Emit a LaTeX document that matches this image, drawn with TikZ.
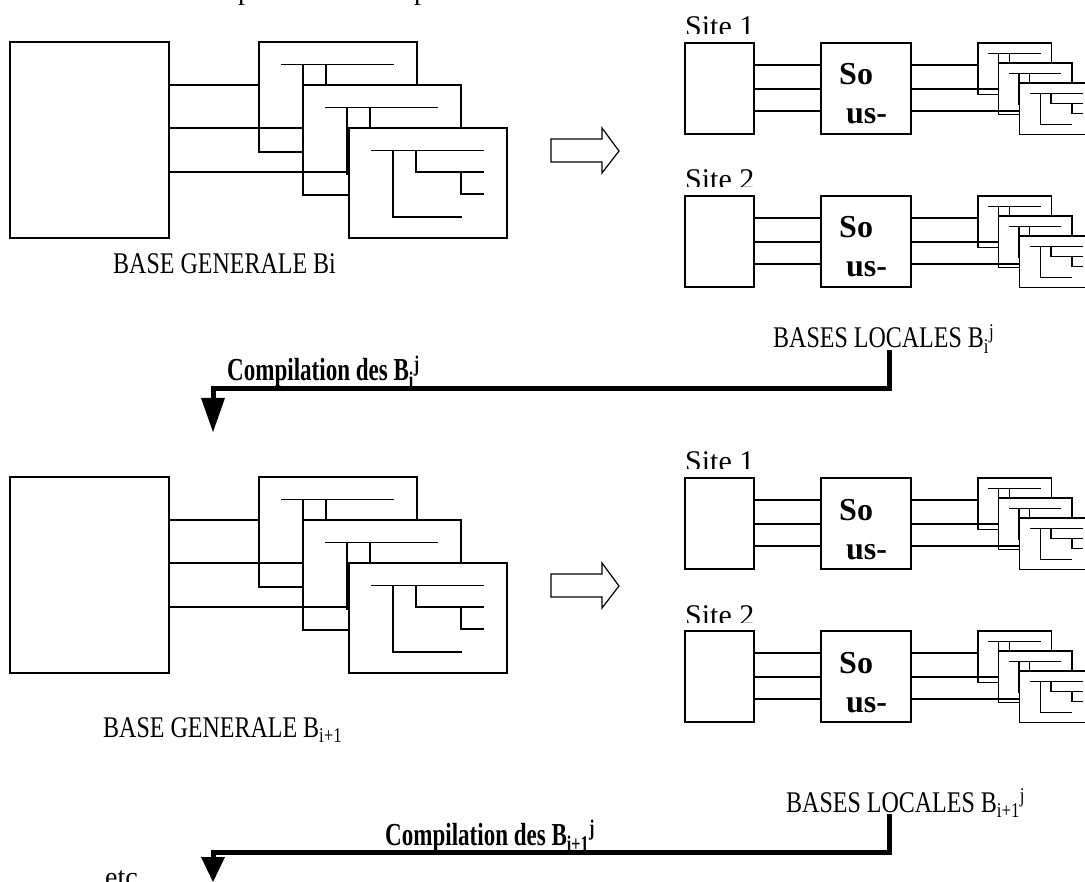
\documentclass[tikz,border=0pt]{standalone}
\usepackage{fontspec}
\setmainfont{Liberation Serif}
\newfontfamily\condreg[FakeStretch=0.8]{Liberation Serif}
\newfontfamily\condbold[FakeStretch=0.72]{Liberation Serif Bold}
\tikzset{
  box/.style={draw, line width=1.2pt, fill=white, inner sep=0pt},
  wire/.style={line width=1.2pt},
  flow/.style={line width=5pt},
  lbl/.style={font=\fontsize{28}{34}\selectfont, inner sep=0pt, anchor=base west},
  sitelbl/.style={font=\fontsize{30}{36}\selectfont, inner sep=0pt, anchor=base west},
  clbl/.style={font=\condreg\fontsize{30}{36}\selectfont, inner sep=0pt, anchor=base west},
  cblbl/.style={font=\condbold\fontsize{32}{38}\selectfont, inner sep=0pt, anchor=base west},
  sous/.style={font=\bfseries\fontsize{32}{38}\selectfont, inner sep=0pt, anchor=base west},
  hollow/.style={draw, line width=1.2pt, fill=white, line join=miter},
  pics/stack/.style={code={
    \foreach \i/\dx/\dy in {1/0/0,2/44/43,3/90/86}{
      \coordinate (-r\i) at (\dx,\dy);
      \filldraw[wire, fill=white] (\dx,\dy) rectangle ++(158,110);
      \draw[wire] ({\dx+22},{\dy+22.5}) -- ++(113,0)
                  ({\dx+44},{\dy+22.5}) -- ({\dx+44},{\dy+89}) -- ({\dx+113},{\dy+89})
                  ({\dx+67},{\dy+22.5}) -- ({\dx+67},{\dy+44}) -- ({\dx+135},{\dy+44})
                  ({\dx+112},{\dy+44}) -- ({\dx+112},{\dy+66}) -- ({\dx+135},{\dy+66});
    }
  }}
}
\begin{document}
\begin{tikzpicture}[x=1pt,y=-1pt]
\path[use as bounding box] (0,0) rectangle (1085,882);
\clip (0,0) rectangle (1085,882);

% clipped text fragments at the top
\node[lbl] (p1) at (238,0) {p};
\node[lbl] (p2) at (414,0) {p};

% ===== level i =====
\node[box, minimum width=159pt, minimum height=196pt] (gen1) at (89.5,140) {};
\pic (st1) at (259,42) {stack};
\foreach \yy/\k in {85/1,128/2,172/3}
  \draw[wire] (gen1.east |- 0,\yy) -- (st1-r\k |- 0,\yy);
\node[clbl] (bg1) at (113,274) {BASE GENERALE Bi};

\draw[hollow] (551,139) -- (602,139) -- (602,128) -- (619,151) -- (602,173) -- (602,162) -- (551,162) -- cycle;

\foreach \s/\oy in {1/0,2/153}{
  \begin{scope}
    \clip (600,0) rectangle (800,34+\oy);
    \node[sitelbl] (site\s) at (685,37+\oy) {Site \s};
  \end{scope}
  \node[box, minimum width=69pt, minimum height=91pt] (la\s) at (719.5,88.5+\oy) {};
  \node[box, minimum width=90pt, minimum height=91pt] (ma\s) at (866,88.5+\oy) {};
  \node[sous] (so\s) at (839,85+\oy) {So};
  \node[sous] (us\s) at (846,124+\oy) {us-};
  \pic[scale=0.465] (ss\s) at (978,43+\oy) {stack};
  \foreach \yy/\k in {65/1,89/2,111/3}{
    \draw[wire] (la\s.east |- 0,\yy+\oy) -- (ma\s.west |- 0,\yy+\oy);
    \draw[wire] (ma\s.east |- 0,\yy+\oy) -- (ss\s-r\k |- 0,\yy+\oy);
  }
}
\node[clbl] (bl1) at (773,348) {BASES LOCALES B\textsubscript{i}\textsuperscript{j}};
\node[cblbl] (cp1) at (227,381) {Compilation des B\textsubscript{i}\textsuperscript{j}};
\coordinate (c1a) at (889,350);
\coordinate (c1b) at (889,389);
\coordinate (c1c) at (213,389);
\coordinate (c1d) at (213,399);
\draw[flow] (c1a) -- (c1b) -- (c1c) -- (c1d);
\fill (201,398) -- (225,398) -- (213,432) -- cycle;

% ===== level i+1 =====
\node[box, minimum width=159pt, minimum height=196pt] (gen2) at (89.5,575) {};
\pic (st2) at (259,477) {stack};
\foreach \yy/\k in {520/1,563/2,607/3}
  \draw[wire] (gen2.east |- 0,\yy) -- (st2-r\k |- 0,\yy);
\node[clbl] (bg2) at (103,737) {BASE GENERALE B\textsubscript{i+1}};

\draw[hollow] (551,574) -- (602,574) -- (602,563) -- (619,586) -- (602,608) -- (602,597) -- (551,597) -- cycle;

\foreach \s/\oy in {1/435,2/588}{
  \begin{scope}
    \clip (600,0) rectangle (800,34+\oy);
    \node[sitelbl] (sitb\s) at (685,37+\oy) {Site \s};
  \end{scope}
  \node[box, minimum width=69pt, minimum height=91pt] (lb\s) at (719.5,88.5+\oy) {};
  \node[box, minimum width=90pt, minimum height=91pt] (mb\s) at (866,88.5+\oy) {};
  \node[sous] (sob\s) at (839,85+\oy) {So};
  \node[sous] (usb\s) at (846,124+\oy) {us-};
  \pic[scale=0.465] (sb\s) at (978,43+\oy) {stack};
  \foreach \yy/\k in {65/1,89/2,111/3}{
    \draw[wire] (lb\s.east |- 0,\yy+\oy) -- (mb\s.west |- 0,\yy+\oy);
    \draw[wire] (mb\s.east |- 0,\yy+\oy) -- (sb\s-r\k |- 0,\yy+\oy);
  }
}
\node[clbl] (bl2) at (786,812) {BASES LOCALES B\textsubscript{i+1}\textsuperscript{j}};
\node[cblbl] (cp2) at (385,845) {Compilation des B\textsubscript{i+1}\textsuperscript{j}};
\coordinate (c2a) at (889,814);
\coordinate (c2b) at (889,852);
\coordinate (c2c) at (213,852);
\coordinate (c2d) at (213,858);
\draw[flow] (c2a) -- (c2b) -- (c2c) -- (c2d);
\fill (201,857) -- (225,857) -- (213,882) -- cycle;
\node[lbl] (etc) at (105,886) {etc};
\end{tikzpicture}
\end{document}
